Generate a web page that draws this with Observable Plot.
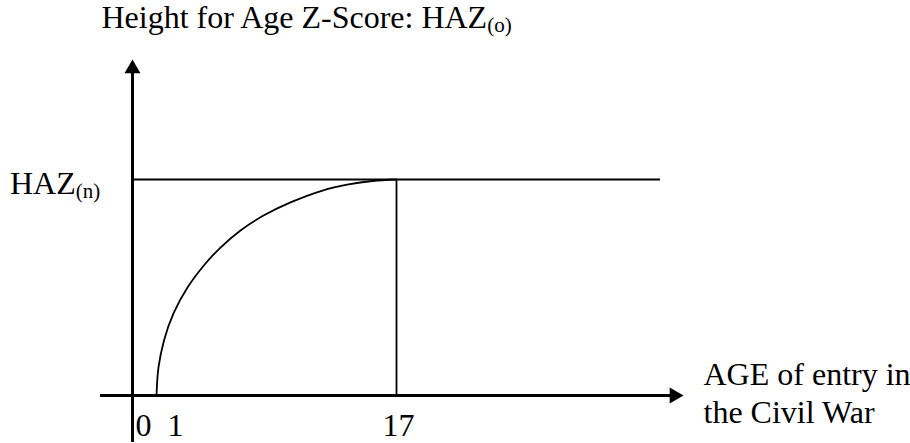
<!DOCTYPE html>
<html>
<head>
<meta charset="utf-8">
<script src="https://cdn.jsdelivr.net/npm/d3@7"></script>
<script src="https://cdn.jsdelivr.net/npm/@observablehq/plot@0.6"></script>
<style>
  html, body { margin: 0; padding: 0; background: #fff; }
  #chart svg { display: block; }
</style>
</head>
<body>
<div id="chart"></div>
<script>
// ---- data ----
// schematic catch-up curve: age of entry vs. relative HAZ (0 = x axis, 1 = HAZ(n))
const curveAge = [1, 1.133, 1.5, 2.133, 3.067, 4.267, 5.267, 6.6, 8.133, 9.933, 12.067, 13.8, 15.4, 17];
const curveHaz = [0, 0.130, 0.255, 0.380, 0.500, 0.611, 0.685, 0.764, 0.833, 0.894, 0.949, 0.977, 0.993, 1];
const tickAges = [0, 17];
const tickLabels = ["0", "17"];
const secondTickAge = [1];
const secondTickLabel = ["1"];
const hazN = [1];
const entryAge = [17];
const titleText = ["Height for Age Z-Score: HAZ"];
const titleSub = "(o)";
const yLabelText = ["HAZ"];
const yLabelSub = "(n)";
const xLabelLines = ["AGE of entry in", "the Civil War"];

// ---- layout (in data units of the scales below) ----
const yAxisAge = -0.6, yAxisBottom = -0.2176, yAxisArrow = 1.513;
const xAxisStart = -2.733, xAxisArrow = 35.52;
const hazLineEnd = 34.6;
const titlePos = {x: -2.667, y: 1.7037};
const yLabelPos = {x: -8.767, y: 0.9306};
const tickY = -0.1852;
const xLabelPos = {x: 37.467, y: 0.0463, step: 0.1759};

const font = "'Liberation Serif', 'Times New Roman', Times, serif";
const curve = curveAge.map((a, i) => ({age: a, haz: curveHaz[i]}));

const chart = Plot.plot({
  width: 910,
  height: 443,
  margin: 0,
  x: {domain: [-9.4, 51.2667], range: [0, 910], axis: null},
  y: {domain: [-0.22222, 1.82870], range: [443, 0], axis: null},
  style: {background: "#fff", color: "#000"},
  marks: [
    // axes
    Plot.ruleX([yAxisAge], {y1: yAxisBottom, y2: yAxisArrow, stroke: "#000", strokeWidth: 3}),
    Plot.ruleY([0], {x1: xAxisStart, x2: xAxisArrow, stroke: "#000", strokeWidth: 3}),
    Plot.dot([yAxisArrow], {x: yAxisAge, y: d => d, symbol: "triangle", r: 5.94, fill: "#000", stroke: null}),
    Plot.dot([xAxisArrow], {x: d => d, y: 0, symbol: "triangle", r: 5.94, rotate: 90, fill: "#000", stroke: null}),
    // HAZ(n) level and age-17 marker
    Plot.ruleY(hazN, {x1: yAxisAge, x2: hazLineEnd, stroke: "#000", strokeWidth: 1.8}),
    Plot.ruleX(entryAge, {y1: 0, y2: hazN[0], stroke: "#000", strokeWidth: 1.8}),
    // curve
    Plot.line(curve, {x: "age", y: "haz", curve: "catmull-rom", stroke: "#000", strokeWidth: 1.8}),
    // tick labels
    Plot.text(tickAges, {x: d => d, y: tickY, text: (d, i) => tickLabels[i], fontFamily: font, fontSize: 32, fill: "#000", textAnchor: "middle", lineAnchor: "bottom", dx: 2}),
    Plot.text(secondTickAge, {x: d => d, y: tickY, text: (d, i) => secondTickLabel[i], fontFamily: font, fontSize: 32, fill: "#000", textAnchor: "middle", lineAnchor: "bottom", dx: 19}),
    // title
    Plot.text(titleText, {x: titlePos.x, y: titlePos.y, text: d => d, fontFamily: font, fontSize: 32, fill: "#000", textAnchor: "start", lineAnchor: "bottom"}),
    // y label
    Plot.text(yLabelText, {x: yLabelPos.x, y: yLabelPos.y, text: d => d, fontFamily: font, fontSize: 32, fill: "#000", textAnchor: "start", lineAnchor: "bottom"}),
    // x label
    Plot.text(xLabelLines, {x: xLabelPos.x, y: (d, i) => xLabelPos.y - i * xLabelPos.step, text: d => d, fontFamily: font, fontSize: 32, fill: "#000", textAnchor: "start", lineAnchor: "bottom"})
  ]
});

// add subscripts as real text (tspans)
chart.querySelectorAll("text").forEach(t => {
  const s = t.textContent;
  let sub = null;
  if (s === titleText[0]) sub = titleSub;
  else if (s === yLabelText[0]) sub = yLabelSub;
  if (sub) {
    const ts = document.createElementNS("http://www.w3.org/2000/svg", "tspan");
    ts.setAttribute("font-size", "21");
    ts.setAttribute("dy", "4");
    ts.textContent = sub;
    t.appendChild(ts);
  }
});

document.getElementById("chart").appendChild(chart);
</script>
</body>
</html>
